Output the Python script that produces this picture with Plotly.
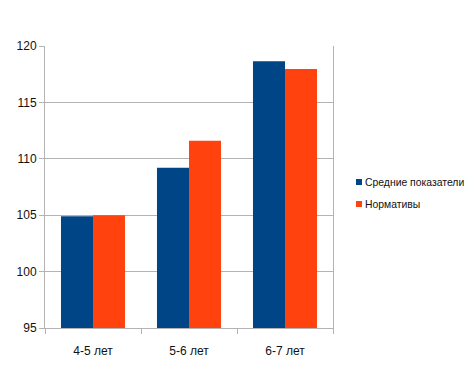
import plotly.graph_objects as go

categories = ["4-5 лет", "5-6 лет", "6-7 лет"]
series_names = ["Средние показатели", "Нормативы"]
avg_values = [104.9, 109.2, 118.65]
norm_values = [105.0, 111.6, 117.95]
y_ticks = [95, 100, 105, 110, 115, 120]

colors = ["#004586", "#ff420e"]
font_family = "Liberation Sans Narrow, Liberation Sans, Arial, sans-serif"

# figure is offset by the page's 8px body margin
W, H = 466, 382
L, R, T, B = 37, 141, 38, 62
pw, ph = W - L - R, H - T - B

fig = go.Figure()
for name, vals, c in zip(series_names, [avg_values, norm_values], colors):
    fig.add_trace(go.Bar(x=categories, y=vals, name=name, showlegend=False,
                         marker=dict(color=c, line=dict(width=0))))

def px_x(p):
    return (p - L) / pw

def px_y(p):
    return (H - B - p) / ph

# manual legend (squares + labels)
legend_top = 171
for i, (name, c) in enumerate(zip(series_names, colors)):
    y0 = legend_top + i * 22
    fig.add_shape(type="rect", xref="paper", yref="paper",
                  x0=px_x(348), x1=px_x(354), y0=px_y(y0 + 6), y1=px_y(y0),
                  fillcolor=c, line=dict(width=0))
    fig.add_annotation(xref="paper", yref="paper", x=px_x(355), y=px_y(y0 + 3),
                       text=name, showarrow=False, xanchor="left", yanchor="middle",
                       font=dict(size=10.4, family=font_family, color="#111111"))

fig.update_layout(
    width=W, height=H,
    margin=dict(l=L, r=R, t=T, b=B, autoexpand=False),
    paper_bgcolor="white", plot_bgcolor="white",
    barmode="group", bargap=0.333, bargroupgap=0,
    font=dict(family=font_family, size=12, color="#111111"),
    showlegend=False,
)
fig.update_xaxes(
    type="category", tickson="boundaries", ticks="outside", ticklen=5,
    tickcolor="#b3b3b3", showline=True, linecolor="#b3b3b3", linewidth=1,
    mirror=False, showgrid=False, tickfont=dict(size=12), automargin=False,
    ticklabelstandoff=12,
)
fig.update_yaxes(
    range=[95, 120], tickvals=y_ticks, ticks="outside", ticklen=5,
    tickcolor="#b3b3b3", showline=True, linecolor="#b3b3b3", linewidth=1,
    mirror=True, showgrid=True, gridcolor="#b3b3b3", gridwidth=1,
    zeroline=False, tickfont=dict(size=12), automargin=False,
)
fig.write_html("out.html")
